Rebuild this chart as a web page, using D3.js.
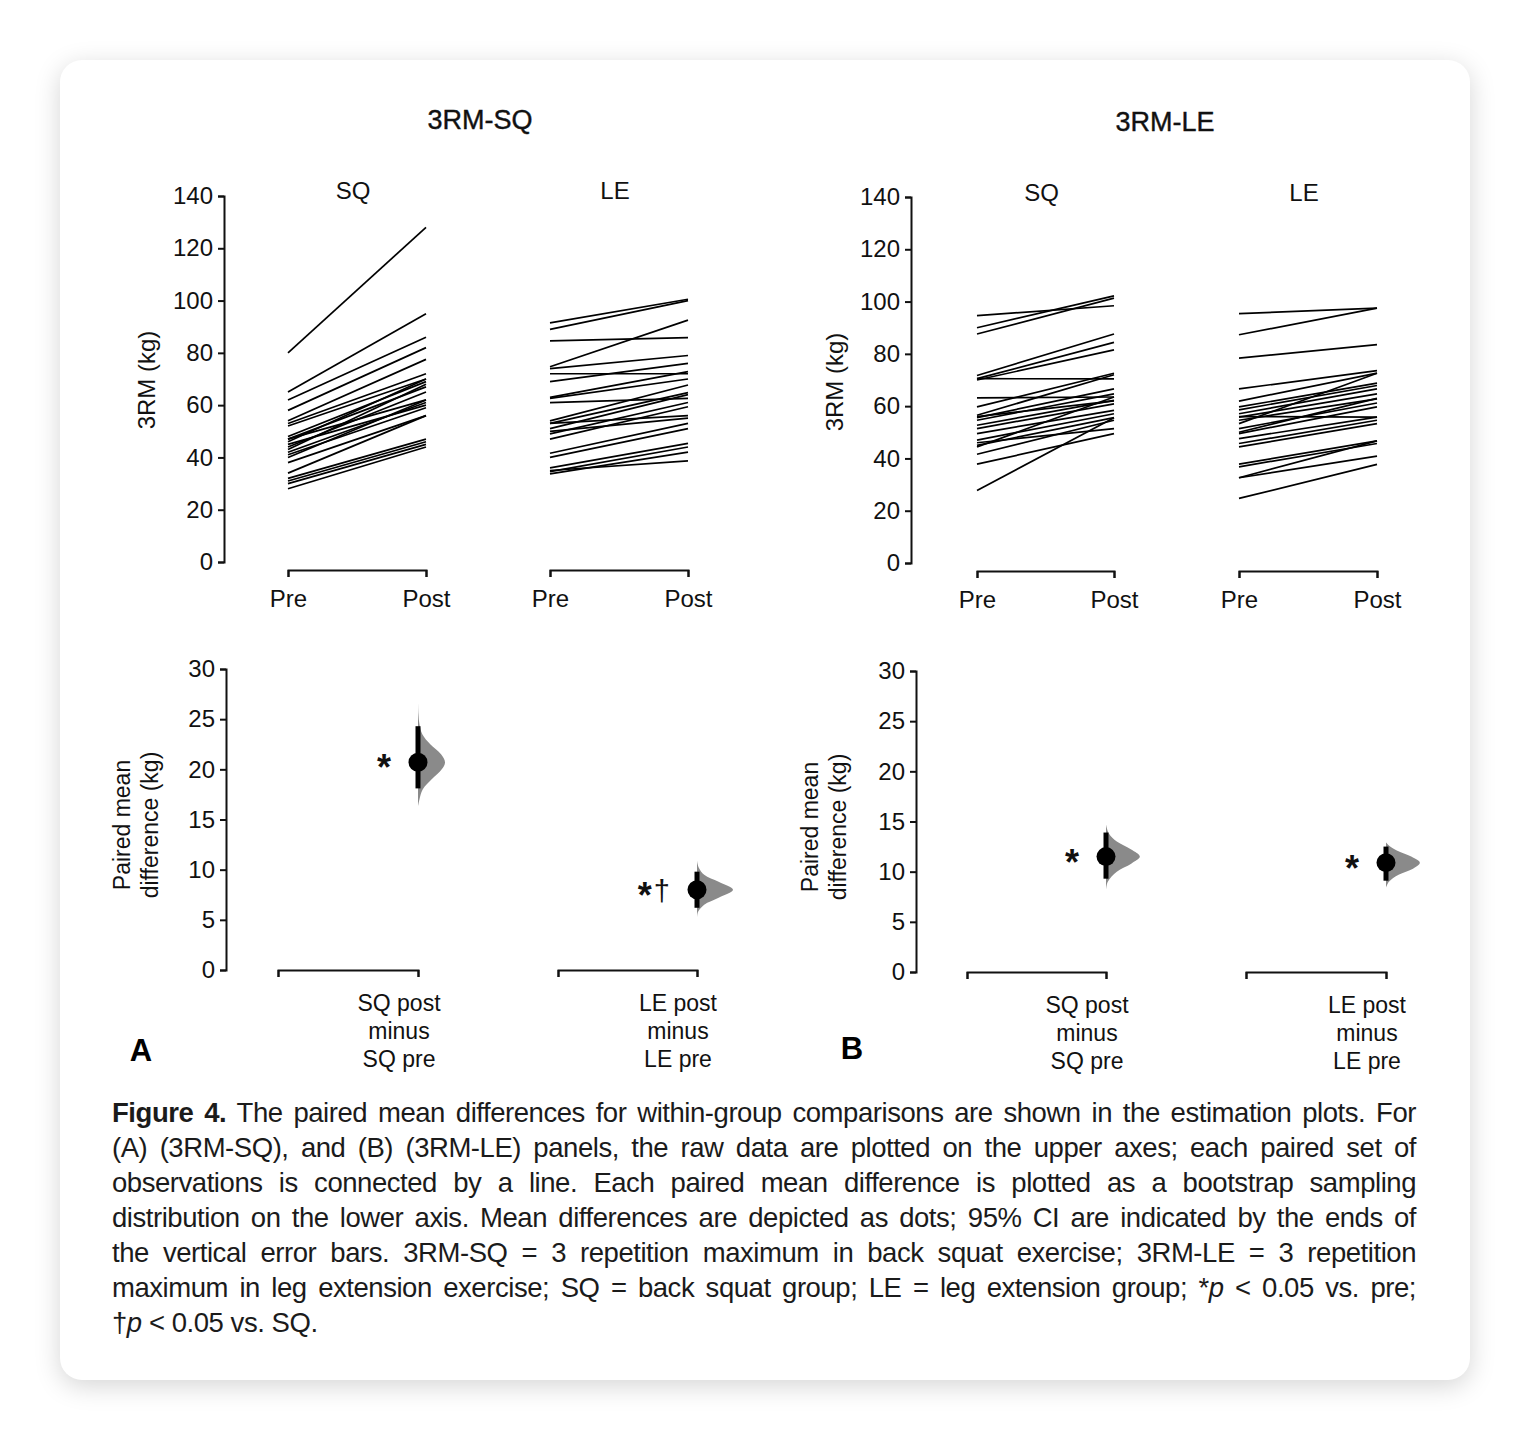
<!DOCTYPE html>
<html>
<head>
<meta charset="utf-8">
<script src="https://cdn.jsdelivr.net/npm/d3@7"></script>
<style>
body { margin: 0; background: #fff; font-family: "Liberation Sans", Arial, Helvetica, sans-serif; }
#card { position: absolute; left: 60px; top: 60px; width: 1410px; height: 1320px; background: #fff;
        border-radius: 22px; box-shadow: 0 6px 26px rgba(0,0,0,0.17); }
#chart { position: absolute; left: 0; top: 0; }
#caption { position: absolute; left: 112px; top: 1095px; width: 1304px; font-size: 27.5px; line-height: 35px;
           color: #1b1b1b; letter-spacing: -0.45px; }
#caption .ln { text-align: justify; text-align-last: justify; }
#caption .last { text-align: left; }
</style>
</head>
<body>
<div id="card"></div>
<svg id="chart" width="1530" height="1440"></svg>
<div id="caption"></div>
<script>
// DATA
const timepoints = ['Pre', 'Post'];
const groups = ['SQ', 'LE'];
const yTicksRaw = [0, 20, 40, 60, 80, 100, 120, 140];
const yTicksDiff = [0, 5, 10, 15, 20, 25, 30];

// 3RM-SQ (A), raw paired values, kg
const aSqPre  = [80, 65, 62, 58, 54, 53, 52, 48, 47, 47, 46, 45, 44, 43, 42, 41, 40, 38, 34, 32, 31, 30, 28];
const aSqPost = [128, 95, 86, 82, 77.5, 72, 70, 69, 67, 62, 70, 60, 65, 68, 61, 59, 62, 56, 56, 47, 46, 45, 44];
const aLePre  = [91.5, 89, 84.6, 74.7, 74, 72, 69, 63, 62.6, 61, 54, 53, 51, 49, 47, 53, 50, 41.6, 40, 36, 34.6, 33.7, 35];
const aLePost = [100.5, 100, 85.8, 92.5, 79, 72, 76, 72.8, 70, 62.6, 67.7, 64.8, 64, 61, 59.4, 56, 55, 53, 51, 45.4, 44, 42, 38.7];

// 3RM-LE (B)
const bSqPre  = [94.6, 90, 87.6, 71.7, 70.5, 70, 70.5, 63.2, 59.7, 56.5, 55.6, 54.6, 52.7, 51.4, 49.5, 47, 45, 44.4, 41.6, 37.8, 27.7, 56, 46];
const bSqPost = [98.4, 102.2, 101.3, 87.6, 84.4, 81.5, 70.4, 63.5, 72.6, 72, 66.6, 64.7, 62.2, 60.9, 58.4, 57.1, 55.6, 63.5, 54.6, 49.5, 55.6, 62, 51.4];
const bLePre  = [95.4, 87.3, 78.4, 66.6, 61.9, 59.7, 58.6, 57.1, 55.8, 54.6, 53.3, 51.4, 49.5, 47.6, 45.7, 44.4, 56, 37.8, 36.8, 32.6, 32.6, 24.7, 50];
const bLePost = [97.5, 97.5, 83.5, 73.6, 72.6, 68.8, 67.9, 66.6, 64.7, 62.8, 72.6, 61.2, 59.7, 55.8, 54.6, 53.3, 55.8, 46.7, 45.7, 46.7, 40.9, 37.7, 63];

// paired mean differences and 95% CI
const aDiffMean = [20.7, 8.0];
const aDiffLow  = [18.1, 6.2];
const aDiffHigh = [24.3, 9.8];
const bDiffMean = [11.5, 10.9];
const bDiffLow  = [9.3, 9.1];
const bDiffHigh = [13.9, 12.5];
const aSig = [['*', ''], ['*', '†']];
const bSig = [['*', ''], ['*', '']];
const diffLabels = [['SQ post', 'minus', 'SQ pre'], ['LE post', 'minus', 'LE pre']];

// bootstrap distributions read as [kg, relative density]
const aSqDist = [[16.3, 0], [17, 0.04], [18, 0.13], [19, 0.38], [20, 0.66], [20.7, 0.75], [21.5, 0.64], [22.5, 0.34], [23.5, 0.12], [24.5, 0.04], [25.5, 0.012], [26.7, 0]];
const aLeDist = [[5.2, 0], [5.8, 0.03], [6.5, 0.2], [7.2, 0.6], [8.0, 1], [8.8, 0.6], [9.5, 0.2], [10.2, 0.05], [10.9, 0]];
const bSqDist = [[8.2, 0], [9, 0.05], [10, 0.3], [10.8, 0.7], [11.5, 0.94], [12.2, 0.7], [13, 0.3], [13.8, 0.08], [14.7, 0]];
const bLeDist = [[8.4, 0], [9, 0.08], [9.7, 0.35], [10.3, 0.75], [10.9, 0.94], [11.5, 0.7], [12.1, 0.3], [12.6, 0.08], [12.9, 0]];

const panels = [
  { title: '3RM-SQ', letter: 'A', pre: [aSqPre, aLePre], post: [aSqPost, aLePost],
    mean: aDiffMean, lo: aDiffLow, hi: aDiffHigh, sig: aSig, dist: [aSqDist, aLeDist],
    // layout
    titleX: 480, titleY: 129, axX: 224, yTop: [562, 196], grpX: [[288, 426], [550, 688]], brY: 570, gtY: 199,
    ylabX: 147, ylabY: 380,
    dAxX: 226, dY: [970, 669], dX: [[278, 418], [558, 697]], dlabX: [122, 150], dlabY: 825, letX: 141, letY: 1061 },
  { title: '3RM-LE', letter: 'B', pre: [bSqPre, bLePre], post: [bSqPost, bLePost],
    mean: bDiffMean, lo: bDiffLow, hi: bDiffHigh, sig: bSig, dist: [bSqDist, bLeDist],
    titleX: 1165, titleY: 131, axX: 911, yTop: [563, 197], grpX: [[977, 1114], [1239, 1377]], brY: 571, gtY: 201,
    ylabX: 835, ylabY: 382,
    dAxX: 916, dY: [972, 671], dX: [[967, 1106], [1246, 1386]], dlabX: [810, 838], dlabY: 827, letX: 852, letY: 1059 }
];

const svg = d3.select('#chart');
const ink = '#111';
const widthScale = d3.scaleLinear().domain([0, 1]).range([0, 36]);

function styleAxis(g, size) {
  g.select('.domain').attr('stroke', ink).attr('stroke-width', 2);
  g.selectAll('.tick line').attr('stroke', ink).attr('stroke-width', 2);
  g.selectAll('.tick text').attr('fill', '#111').style('font-size', size + 'px')
    .style('font-family', '"Liberation Sans", Arial, sans-serif');
}

panels.forEach(function (p) {
  let g = svg.append('g');

  g.append('text').attr('x', p.titleX).attr('y', p.titleY).attr('text-anchor', 'middle')
    .style('font-size', '27px').attr('fill', '#111').attr('stroke', '#111').attr('stroke-width', 0.4)
    .text(p.title);

  // upper: raw data
  let y = d3.scaleLinear().domain([0, 140]).range(p.yTop);
  let ax = g.append('g').attr('transform', 'translate(' + p.axX + ',0)')
    .call(d3.axisLeft(y).tickValues(yTicksRaw).tickSize(6).tickSizeOuter(6).tickPadding(5));
  styleAxis(ax, 24);

  g.append('text').attr('transform', 'translate(' + p.ylabX + ',' + p.ylabY + ') rotate(-90)')
    .attr('text-anchor', 'middle').attr('dy', '0.35em').style('font-size', '24px').attr('fill', '#111').text('3RM (kg)');

  groups.forEach(function (grp, gi) {
    let x = d3.scalePoint().domain(timepoints).range(p.grpX[gi]);
    g.append('text').attr('x', (p.grpX[gi][0] + p.grpX[gi][1]) / 2 - 4).attr('y', p.gtY)
      .attr('text-anchor', 'middle').style('font-size', '24px').attr('fill', '#111').text(grp);

    let pairs = p.pre[gi].map((v, i) => [v, p.post[gi][i]]);
    g.append('g').selectAll('line').data(pairs).enter().append('line')
      .attr('x1', x('Pre')).attr('x2', x('Post'))
      .attr('y1', d => y(d[0])).attr('y2', d => y(d[1]))
      .attr('stroke', '#000').attr('stroke-width', 1.7);

    let bx = g.append('g').attr('transform', 'translate(0,' + p.brY + ')')
      .call(d3.axisBottom(x).tickSize(7).tickSizeOuter(7).tickPadding(13));
    styleAxis(bx, 24);
  });

  // lower: paired mean differences
  let yd = d3.scaleLinear().domain([0, 30]).range(p.dY);
  let dax = g.append('g').attr('transform', 'translate(' + p.dAxX + ',0)')
    .call(d3.axisLeft(yd).tickValues(yTicksDiff).tickSize(6).tickSizeOuter(6).tickPadding(5));
  styleAxis(dax, 24);

  g.append('text').attr('transform', 'translate(' + p.dlabX[0] + ',' + p.dlabY + ') rotate(-90)')
    .attr('text-anchor', 'middle').attr('dy', '0.35em').style('font-size', '23px').attr('fill', '#111').text('Paired mean');
  g.append('text').attr('transform', 'translate(' + p.dlabX[1] + ',' + p.dlabY + ') rotate(-90)')
    .attr('text-anchor', 'middle').attr('dy', '0.35em').style('font-size', '23px').attr('fill', '#111').text('difference (kg)');

  groups.forEach(function (grp, gi) {
    let x = d3.scalePoint().domain(['ref', 'diff']).range(p.dX[gi]);
    let bx = g.append('g').attr('transform', 'translate(0,' + p.dY[0] + ')')
      .call(d3.axisBottom(x).tickSize(7).tickSizeOuter(7).tickFormat(''));
    styleAxis(bx, 22);

    let cx = x('diff');
    let t = g.append('text').attr('text-anchor', 'middle').style('font-size', '23px').attr('fill', '#111');
    diffLabels[gi].forEach(function (s, li) {
      t.append('tspan').attr('x', cx - 19).attr('y', p.dY[0] + 41 + li * 28).text(s);
    });

    let area = d3.area().curve(d3.curveCatmullRom)
      .y(d => yd(d[0])).x0(cx).x1(d => cx + widthScale(d[1]));
    g.append('path').datum(p.dist[gi]).attr('d', area).attr('fill', '#8a8a8a');

    g.append('line').attr('x1', cx).attr('x2', cx)
      .attr('y1', yd(p.lo[gi])).attr('y2', yd(p.hi[gi]))
      .attr('stroke', '#000').attr('stroke-width', 5);
    g.append('circle').attr('cx', cx).attr('cy', yd(p.mean[gi])).attr('r', 9.5).attr('fill', '#000');

    // significance marks: bold asterisk, lighter dagger (dy keeps one text chunk)
    let my = yd(p.mean[gi]);
    let s = g.append('text').attr('x', cx - 27).attr('y', my + 18)
      .attr('text-anchor', 'end').style('font-size', '36px').attr('fill', '#111');
    s.append('tspan').style('font-weight', 'bold').text(p.sig[gi][0]);
    if (p.sig[gi][1]) {
      s.append('tspan').style('font-size', '29px').attr('dx', 2).attr('dy', -7).text(p.sig[gi][1]);
    }
  });

  g.append('text').attr('x', p.letX).attr('y', p.letY).attr('text-anchor', 'middle')
    .style('font-size', '31px').style('font-weight', 'bold').attr('fill', '#000').text(p.letter);
});

// caption
const captionLines = [
  '<b>Figure 4.</b> The paired mean differences for within-group comparisons are shown in the estimation plots. For',
  '(A) (3RM-SQ), and (B) (3RM-LE) panels, the raw data are plotted on the upper axes; each paired set of',
  'observations is connected by a line. Each paired mean difference is plotted as a bootstrap sampling',
  'distribution on the lower axis. Mean differences are depicted as dots; 95% CI are indicated by the ends of',
  'the vertical error bars. 3RM-SQ = 3 repetition maximum in back squat exercise; 3RM-LE = 3 repetition',
  'maximum in leg extension exercise; SQ = back squat group; LE = leg extension group; *<i>p</i> &lt; 0.05 vs. pre;',
  '†<i>p</i> &lt; 0.05 vs. SQ.'
];
d3.select('#caption').selectAll('div').data(captionLines).enter().append('div')
  .attr('class', (d, i) => i === captionLines.length - 1 ? 'last' : 'ln')
  .html(d => d);
</script>
</body>
</html>
